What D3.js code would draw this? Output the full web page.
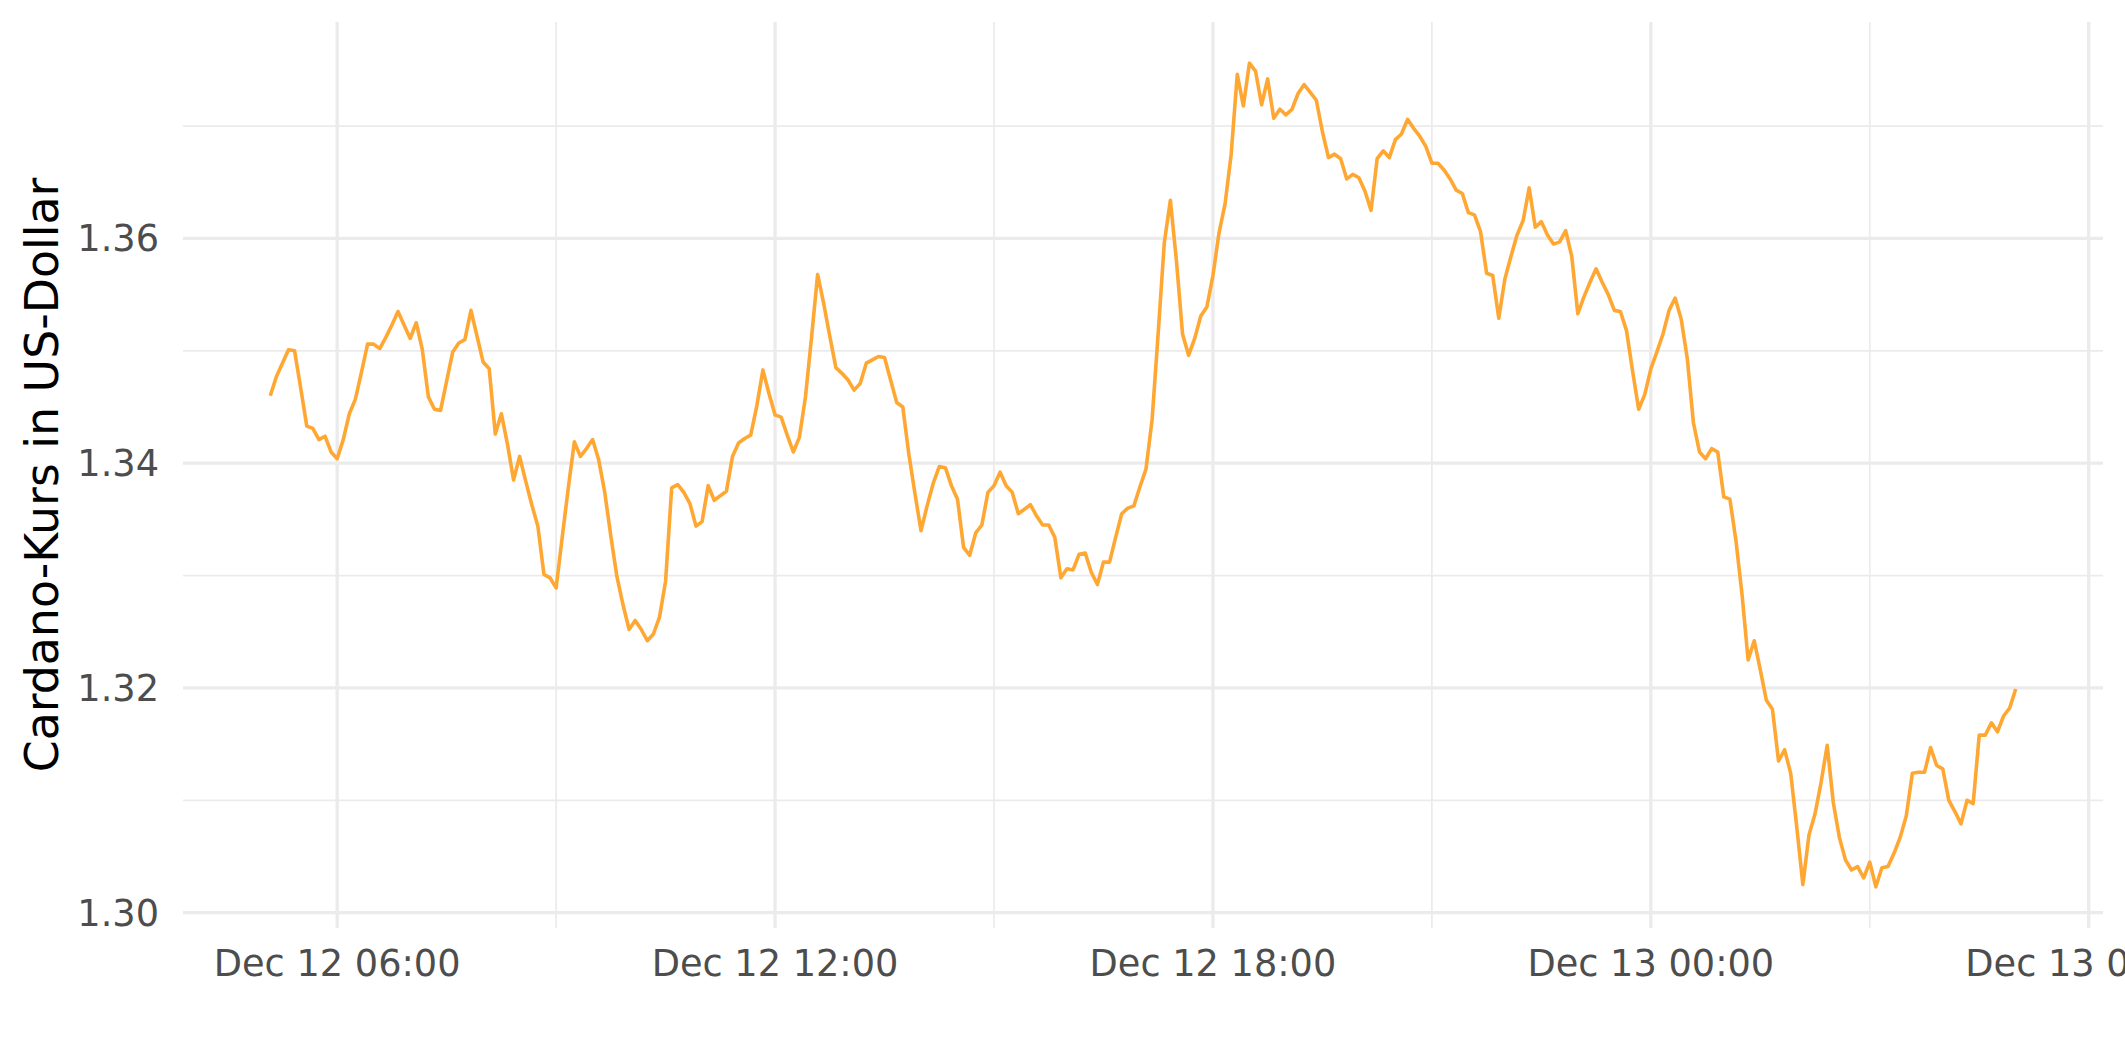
<!DOCTYPE html>
<html>
<head>
<meta charset="utf-8">
<script src="https://cdn.jsdelivr.net/npm/d3@7"></script>
<style>
  html, body { margin: 0; padding: 0; background: #ffffff; }
  svg { display: block; }
</style>
</head>
<body>
<svg id="chart" width="2125" height="1062"></svg>
<script>
// ---------- data ----------
const startTime = "2021-12-12T05:05:00Z";   // first observation
const stepMinutes = 5;                        // one price every 5 minutes
const prices = [
  1.3460,1.3477,1.3489,1.3501,1.3500,1.3467,1.3433,1.3431,1.3421,1.3424,
  1.3410,1.3404,1.3421,1.3444,1.3457,1.3481,1.3506,1.3506,1.3502,1.3512,
  1.3523,1.3535,1.3523,1.3511,1.3525,1.3501,1.3459,1.3448,1.3447,1.3473,
  1.3499,1.3507,1.3510,1.3536,1.3513,1.3490,1.3484,1.3426,1.3444,1.3417,
  1.3385,1.3406,1.3384,1.3363,1.3344,1.3301,1.3298,1.3289,
  1.3334,1.3378,1.3419,1.3406,1.3413,1.3421,1.3403,1.3374,1.3335,1.3299,
  1.3274,1.3252,1.3260,1.3252,1.3242,1.3248,1.3263,1.3295,1.3378,1.3381,
  1.3374,1.3364,1.3344,1.3348,1.3380,1.3367,1.3371,1.3375,1.3406,1.3418,
  1.3422,1.3425,1.3451,1.3483,1.3462,1.3443,1.3441,1.3425,1.3410,1.3423,
  1.3459,1.3512,1.3568,1.3542,1.3513,1.3485,
  1.3480,1.3474,1.3465,1.3471,1.3489,1.3492,1.3495,1.3494,1.3474,1.3454,
  1.3450,1.3408,1.3373,1.3340,1.3362,1.3382,1.3397,1.3396,1.3380,1.3368,
  1.3325,1.3318,1.3338,1.3345,1.3374,1.3380,1.3392,1.3380,1.3374,1.3355,
  1.3359,1.3363,1.3353,1.3345,1.3345,1.3334,1.3298,1.3306,1.3305,1.3319,
  1.3320,1.3303,1.3292,1.3312,1.3312,1.3334,1.3355,1.3360,1.3362,1.3379,
  1.3395,
  1.3439,1.3516,1.3596,1.3634,1.3580,
  1.3515,1.3496,1.3511,1.3531,1.3539,1.3567,1.3605,1.3631,1.3675,1.3746,
  1.3718,1.3756,1.3749,1.3719,1.3742,1.3707,1.3715,1.3710,1.3715,1.3729,
  1.3737,1.3730,1.3723,1.3695,1.3672,1.3675,1.3671,1.3653,1.3657,1.3654,
  1.3642,1.3625,1.3671,1.3678,1.3672,1.3688,1.3693,1.3706,1.3698,1.3691,
  1.3682,1.3667,1.3667,1.3661,1.3653,1.3643,1.3640,
  1.3623,1.3621,1.3606,
  1.3569,1.3567,1.3529,1.3564,1.3584,1.3603,1.3616,1.3645,1.3610,1.3615,
  1.3603,1.3595,1.3597,1.3607,1.3584,1.3533,1.3548,1.3561,1.3573,1.3561,
  1.3550,1.3536,1.3535,1.3518,1.3482,1.3448,1.3461,1.3484,1.3499,1.3515,
  1.3536,1.3547,1.3528,1.3493,1.3436,1.3410,1.3404,1.3413,1.3410,1.3370,
  1.3368,1.3331,1.3283,1.3225,
  1.3242,1.3216,1.3189,1.3181,1.3135,1.3145,
  1.3124,1.3076,1.3025,1.3069,1.3088,1.3116,1.3149,1.3098,1.3067,1.3047,
  1.3038,1.3041,1.3031,1.3045,1.3023,1.3040,1.3041,1.3053,1.3067,1.3086,
  1.3124,1.3125,1.3125,1.3147,1.3131,1.3128,1.3100,1.3090,1.3079,1.3100,
  1.3097,1.3158,1.3158,1.3169,1.3161,1.3175,1.3182,1.3199
];
const yTicks = [1.30, 1.32, 1.34, 1.36];
const yMinorTicks = [1.31, 1.33, 1.35, 1.37];
const xTicks = ["2021-12-12T06:00:00Z", "2021-12-12T12:00:00Z", "2021-12-12T18:00:00Z",
                "2021-12-13T00:00:00Z", "2021-12-13T06:00:00Z"];
const xMinorTicks = ["2021-12-12T03:00:00Z", "2021-12-12T09:00:00Z", "2021-12-12T15:00:00Z",
                     "2021-12-12T21:00:00Z", "2021-12-13T03:00:00Z"];
const yTitle = "Cardano-Kurs in US-Dollar";

// ---------- layout ----------
const panel = { left: 183, right: 2103, top: 22, bottom: 928 };
const font = "'DejaVu Sans', sans-serif";

const t0 = new Date(startTime).getTime();
const data = prices.map((v, i) => ({ t: new Date(t0 + i * stepMinutes * 60000), v }));

// ggplot-like 5% expansion of the data range
const xExt = d3.extent(data, d => d.t.getTime());
const xPad = (xExt[1] - xExt[0]) * 0.05;
const x = d3.scaleUtc()
  .domain([new Date(xExt[0] - xPad), new Date(xExt[1] + xPad)])
  .range([panel.left, panel.right]);

const yExt = d3.extent(data, d => d.v);
const yPad = (yExt[1] - yExt[0]) * 0.05;
const y = d3.scaleLinear()
  .domain([yExt[0] - yPad, yExt[1] + yPad])
  .range([panel.bottom, panel.top]);

const svg = d3.select("#chart");
svg.append("rect").attr("width", 2125).attr("height", 1062).attr("fill", "#ffffff");

const grid = svg.append("g");
const inX = d => { const p = x(d); return p >= panel.left && p <= panel.right; };
const inY = d => { const p = y(d); return p >= panel.top && p <= panel.bottom; };

// minor grid
grid.selectAll("line.ymin").data(yMinorTicks.filter(inY)).join("line")
  .attr("x1", panel.left).attr("x2", panel.right)
  .attr("y1", d => y(d)).attr("y2", d => y(d))
  .attr("stroke", "#EBEBEB").attr("stroke-width", 1.7);
grid.selectAll("line.xmin").data(xMinorTicks.map(s => new Date(s)).filter(inX)).join("line")
  .attr("y1", panel.top).attr("y2", panel.bottom)
  .attr("x1", d => x(d)).attr("x2", d => x(d))
  .attr("stroke", "#EBEBEB").attr("stroke-width", 1.7);

// major grid
grid.selectAll("line.ymaj").data(yTicks).join("line")
  .attr("x1", panel.left).attr("x2", panel.right)
  .attr("y1", d => y(d)).attr("y2", d => y(d))
  .attr("stroke", "#EBEBEB").attr("stroke-width", 3.3);
grid.selectAll("line.xmaj").data(xTicks.map(s => new Date(s)).filter(inX)).join("line")
  .attr("y1", panel.top).attr("y2", panel.bottom)
  .attr("x1", d => x(d)).attr("x2", d => x(d))
  .attr("stroke", "#EBEBEB").attr("stroke-width", 3.3);

// price line
const line = d3.line().x(d => x(d.t)).y(d => y(d.v));
svg.append("path").datum(data)
  .attr("d", line)
  .attr("fill", "none")
  .attr("stroke", "#FFA733")
  .attr("stroke-width", 3.6)
  .attr("stroke-linejoin", "round")
  .attr("stroke-linecap", "butt");

// y tick labels
const fmtY = d3.format(".2f");
svg.append("g").selectAll("text").data(yTicks).join("text")
  .attr("x", 159).attr("y", d => y(d) + 13)
  .attr("text-anchor", "end")
  .attr("font-family", font).attr("font-size", 36.7)
  .attr("fill", "#4D4D4D")
  .text(d => fmtY(d));

// x tick labels (the last one runs off the right edge, as in the reference)
const fmtX = d3.utcFormat("%b %d %H:%M");
svg.append("g").selectAll("text").data(xTicks.map(s => new Date(s))).join("text")
  .attr("x", d => x(d)).attr("y", 976)
  .attr("text-anchor", "middle")
  .attr("font-family", font).attr("font-size", 36.7)
  .attr("fill", "#4D4D4D")
  .text(d => fmtX(d));

// y axis title
svg.append("text")
  .attr("transform", `translate(58, ${(panel.top + panel.bottom) / 2}) rotate(-90)`)
  .attr("text-anchor", "middle")
  .attr("font-family", font).attr("font-size", 45.8)
  .attr("fill", "#000000")
  .text(yTitle);
</script>
</body>
</html>
